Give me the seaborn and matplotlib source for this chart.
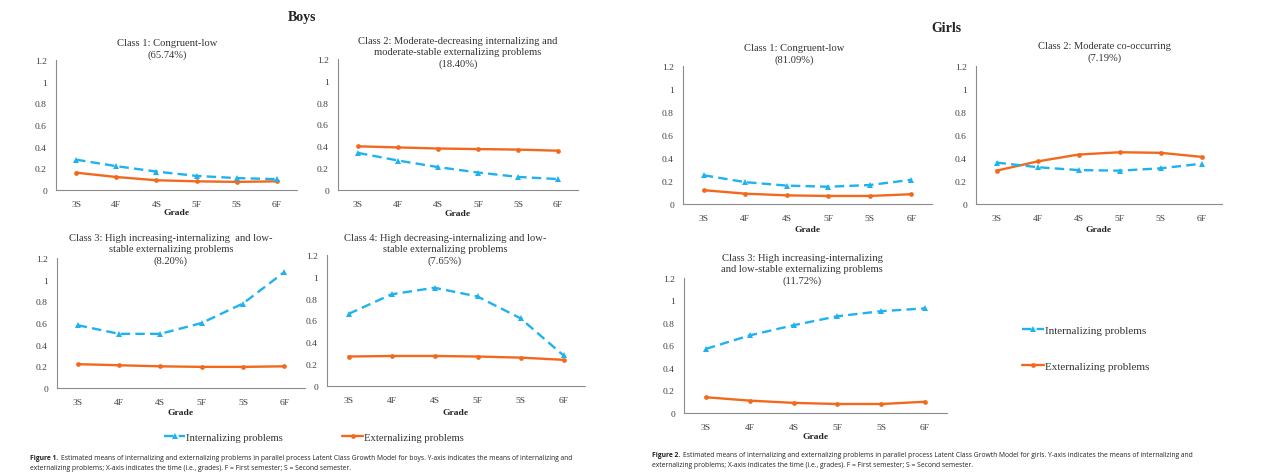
import numpy as np
import pandas as pd
import matplotlib
matplotlib.use("Agg")
import matplotlib.pyplot as plt
from matplotlib.lines import Line2D
from matplotlib.ticker import FuncFormatter, MultipleLocator
import seaborn as sns

grades = ['3S', '4F', '4S', '5F', '5S', '6F']

# Boys
boys_c1_int = [0.28, 0.22, 0.17, 0.13, 0.11, 0.10]
boys_c1_ext = [0.16, 0.12, 0.09, 0.08, 0.075, 0.08]
boys_c2_int = [0.34, 0.27, 0.21, 0.16, 0.12, 0.10]
boys_c2_ext = [0.40, 0.39, 0.38, 0.375, 0.37, 0.36]
boys_c3_int = [0.58, 0.50, 0.50, 0.60, 0.78, 1.07]
boys_c3_ext = [0.22, 0.21, 0.20, 0.195, 0.195, 0.20]
boys_c4_int = [0.66, 0.84, 0.90, 0.82, 0.62, 0.28]
boys_c4_ext = [0.27, 0.275, 0.275, 0.27, 0.26, 0.24]

# Girls
girls_c1_int = [0.25, 0.19, 0.16, 0.15, 0.165, 0.21]
girls_c1_ext = [0.12, 0.09, 0.075, 0.07, 0.07, 0.085]
girls_c2_int = [0.36, 0.32, 0.295, 0.29, 0.31, 0.35]
girls_c2_ext = [0.29, 0.37, 0.43, 0.45, 0.445, 0.41]
girls_c3_int = [0.57, 0.69, 0.78, 0.86, 0.905, 0.93]
girls_c3_ext = [0.14, 0.11, 0.09, 0.08, 0.08, 0.10]

titles = {
    'b1': 'Class 1: Congruent-low\n(65.74%)',
    'b2': 'Class 2: Moderate-decreasing internalizing and\nmoderate-stable externalizing problems\n(18.40%)',
    'b3': 'Class 3: High increasing-internalizing  and low-\nstable externalizing problems\n(8.20%)',
    'b4': 'Class 4: High decreasing-internalizing and low-\nstable externalizing problems\n(7.65%)',
    'g1': 'Class 1: Congruent-low\n(81.09%)',
    'g2': 'Class 2: Moderate co-occurring\n(7.19%)',
    'g3': 'Class 3: High increasing-internalizing\nand low-stable externalizing problems\n(11.72%)',
}

INT_COLOR = '#1fb2ee'
EXT_COLOR = '#f2691e'
SERIF = 'Liberation Serif'
W, H = 1273, 477


def px_axes(fig, x0, x1, ytop, ybot):
    """Create axes from pixel box"""
    return fig.add_axes([x0 / W, 1 - ybot / H, (x1 - x0) / W, (ybot - ytop) / H])


def draw_panel(fig, box, int_vals, ext_vals, title, title_xy, grade_y):
    ax = px_axes(fig, *box)
    df = pd.DataFrame({
        'grade': grades * 2,
        'value': int_vals + ext_vals,
        'series': ['Internalizing problems'] * 6 + ['Externalizing problems'] * 6,
    })
    sns.lineplot(data=df[df['series'] == 'Externalizing problems'], x='grade', y='value',
                 ax=ax, color=EXT_COLOR, marker='o', markersize=3.4, markeredgewidth=0,
                 linewidth=1.7, sort=False, legend=False)
    sns.lineplot(data=df[df['series'] == 'Internalizing problems'], x='grade', y='value',
                 ax=ax, color=INT_COLOR, marker='^', markersize=4.2, markeredgewidth=0,
                 linewidth=1.7, sort=False, legend=False)
    ax.lines[-1].set_dashes([4, 2.2])

    ax.set_xlim(-0.5, 5.5)
    ax.set_ylim(0, 1.2)
    ax.yaxis.set_major_locator(MultipleLocator(0.2))
    ax.yaxis.set_major_formatter(FuncFormatter(lambda v, p: '%g' % round(v, 1)))
    ax.set_xticks(range(6))
    ax.set_xticklabels(grades)
    ax.set_xticks(np.arange(-0.5, 6, 1), minor=True)
    ax.tick_params(axis='x', which='major', length=0, pad=7, labelsize=6.8, labelcolor='#404040')
    ax.tick_params(axis='x', which='minor', length=2.5, color='#8c8c8c', width=0.7)
    ax.tick_params(axis='y', length=2.5, color='#8c8c8c', width=0.7, pad=4,
                   labelsize=6.8, labelcolor='#404040')
    for lab in ax.get_xticklabels() + ax.get_yticklabels():
        lab.set_family(SERIF)
    ax.set_xlabel('')
    ax.set_ylabel('')
    for side in ['top', 'right']:
        ax.spines[side].set_visible(False)
    for side in ['left', 'bottom']:
        ax.spines[side].set_color('#8c8c8c')
        ax.spines[side].set_linewidth(0.8)
    ax.set_facecolor('none')

    tx, ty = title_xy
    fig.text(tx / W, 1 - ty / H, title, ha='center', va='top', fontsize=7.6,
             family=SERIF, color='#333333', linespacing=1.3)
    cx = (box[0] + box[1]) / 2
    fig.text(cx / W, 1 - grade_y / H, 'Grade', ha='center', va='center', fontsize=6.8,
             family=SERIF, weight='bold', color='#222222')
    return ax


def add_caption(fig, x, y, label, rest1, rest2, size=4.9):
    renderer = fig.canvas.get_renderer()
    t = fig.text(x / W, 1 - y / H, label, ha='left', va='center', fontsize=size,
                 family='Open Sans', weight='bold', color='#222222')
    bb = t.get_window_extent(renderer)
    fig.text(bb.x1 / W + 3 / W, 1 - y / H, rest1, ha='left', va='center', fontsize=size,
             family='Open Sans', color='#222222')
    fig.text(x / W, 1 - (y + 9.5) / H, rest2, ha='left', va='center', fontsize=size,
             family='Open Sans', color='#222222')


def main():
    sns.set_theme(style='white')
    plt.rcParams['font.family'] = [SERIF, 'DejaVu Sans']
    fig = plt.figure(figsize=(W / 100, H / 100), dpi=100)
    fig.patch.set_facecolor('white')

    # Boys
    fig.text(302 / W, 1 - 17 / H, 'Boys', ha='center', va='center', fontsize=10,
             family=SERIF, weight='bold', color='#222222')
    draw_panel(fig, (56, 297, 61, 191), boys_c1_int, boys_c1_ext, titles['b1'], (167, 39), 213)
    draw_panel(fig, (338, 578, 60, 191), boys_c2_int, boys_c2_ext, titles['b2'], (458, 37), 214)
    draw_panel(fig, (57, 305, 259, 389), boys_c3_int, boys_c3_ext, titles['b3'], (171, 234), 413)
    draw_panel(fig, (327, 585, 256, 387), boys_c4_int, boys_c4_ext, titles['b4'], (445, 234), 413)

    # Girls
    fig.text(946 / W, 1 - 28 / H, 'Girls', ha='center', va='center', fontsize=10,
             family=SERIF, weight='bold', color='#222222')
    draw_panel(fig, (683, 932, 67, 205), girls_c1_int, girls_c1_ext, titles['g1'], (794, 44), 230)
    draw_panel(fig, (976, 1222, 67, 205), girls_c2_int, girls_c2_ext, titles['g2'], (1105, 42), 230)
    draw_panel(fig, (684, 947, 279, 414), girls_c3_int, girls_c3_ext, titles['g3'], (802, 254), 437)

    int_handle = Line2D([], [], color=INT_COLOR, marker='^', markersize=4.2, markeredgewidth=0,
                        linewidth=1.7, dashes=[4, 2.2])
    ext_handle = Line2D([], [], color=EXT_COLOR, marker='o', markersize=3.4, markeredgewidth=0,
                        linewidth=1.7)
    labels = ['Internalizing problems', 'Externalizing problems']

    fig.legend([int_handle, ext_handle], labels, loc='center', ncol=2,
               bbox_to_anchor=(314 / W, 1 - 438 / H), frameon=False,
               prop={'family': SERIF, 'size': 7.7}, handlelength=2.0, handletextpad=0.1,
               columnspacing=5.5, labelcolor='#333333')
    fig.legend([int_handle, ext_handle], labels, loc='center left',
               bbox_to_anchor=(1012 / W, 1 - 349 / H), frameon=False,
               prop={'family': SERIF, 'size': 8}, handlelength=2.0, handletextpad=0.1,
               labelspacing=2.3, labelcolor='#333333')

    add_caption(fig, 30, 459, 'Figure 1.',
                'Estimated means of internalizing and externalizing problems in parallel process Latent Class Growth Model for boys. Y-axis indicates the means of internalizing and',
                'externalizing problems; X-axis indicates the time (i.e., grades). F = First semester; S = Second semester.')
    add_caption(fig, 652, 456, 'Figure 2.',
                'Estimated means of internalizing and externalizing problems in parallel process Latent Class Growth Model for girls. Y-axis indicates the means of internalizing and',
                'externalizing problems; X-axis indicates the time (i.e., grades). F = First semester; S = Second semester.')

    fig.savefig('out.png', dpi=100, facecolor='white')
    plt.close(fig)


if __name__ == '__main__':
    main()
